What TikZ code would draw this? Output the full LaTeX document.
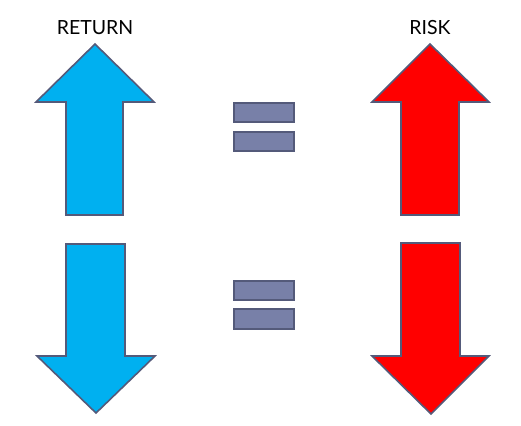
\documentclass[tikz,border=0pt]{standalone}
\usepackage{fontspec}
\setmainfont{Lato}
\usepackage{tikz}
\definecolor{outline}{RGB}{84,90,122}
\definecolor{upblue}{RGB}{0,176,240}
\definecolor{upred}{RGB}{255,0,0}
\definecolor{eqfill}{RGB}{120,128,168}

\begin{document}
\begin{tikzpicture}[x=1pt,y=-1pt,
  every node/.style={font=\fontsize{19.5}{21}\selectfont},
  bigarrow/.style={draw=outline,line width=1.6pt,line join=miter},
  eqbar/.style={draw=outline,fill=eqfill,line width=2pt}]
\useasboundingbox (0,0) rectangle (521,425);
% labels
\node[anchor=base] (ret)  at (95,35)  {RETURN};
\node[anchor=base] (risk) at (430,35) {RISK};
% up arrows
\draw[bigarrow,fill=upblue] (95,44) -- (154,102) -- (123,102) -- (123,215)
  -- (66,215) -- (66,102) -- (36,102) -- cycle;
\draw[bigarrow,fill=upred] (430,44) -- (489,102) -- (459,102) -- (459,215)
  -- (401,215) -- (401,102) -- (372,102) -- cycle;
% down arrows
\draw[bigarrow,fill=upblue] (96,413) -- (155,356) -- (125,356) -- (125,244)
  -- (66,244) -- (66,356) -- (37,356) -- cycle;
\draw[bigarrow,fill=upred] (431,414) -- (489,356) -- (460,356) -- (460,243)
  -- (401,243) -- (401,356) -- (372,356) -- cycle;
% equals signs
\draw[eqbar] (234,103) rectangle (294,122);
\draw[eqbar] (234,132) rectangle (294,151);
\draw[eqbar] (234,281) rectangle (294,300);
\draw[eqbar] (234,309) rectangle (294,329);
\end{tikzpicture}
\end{document}
